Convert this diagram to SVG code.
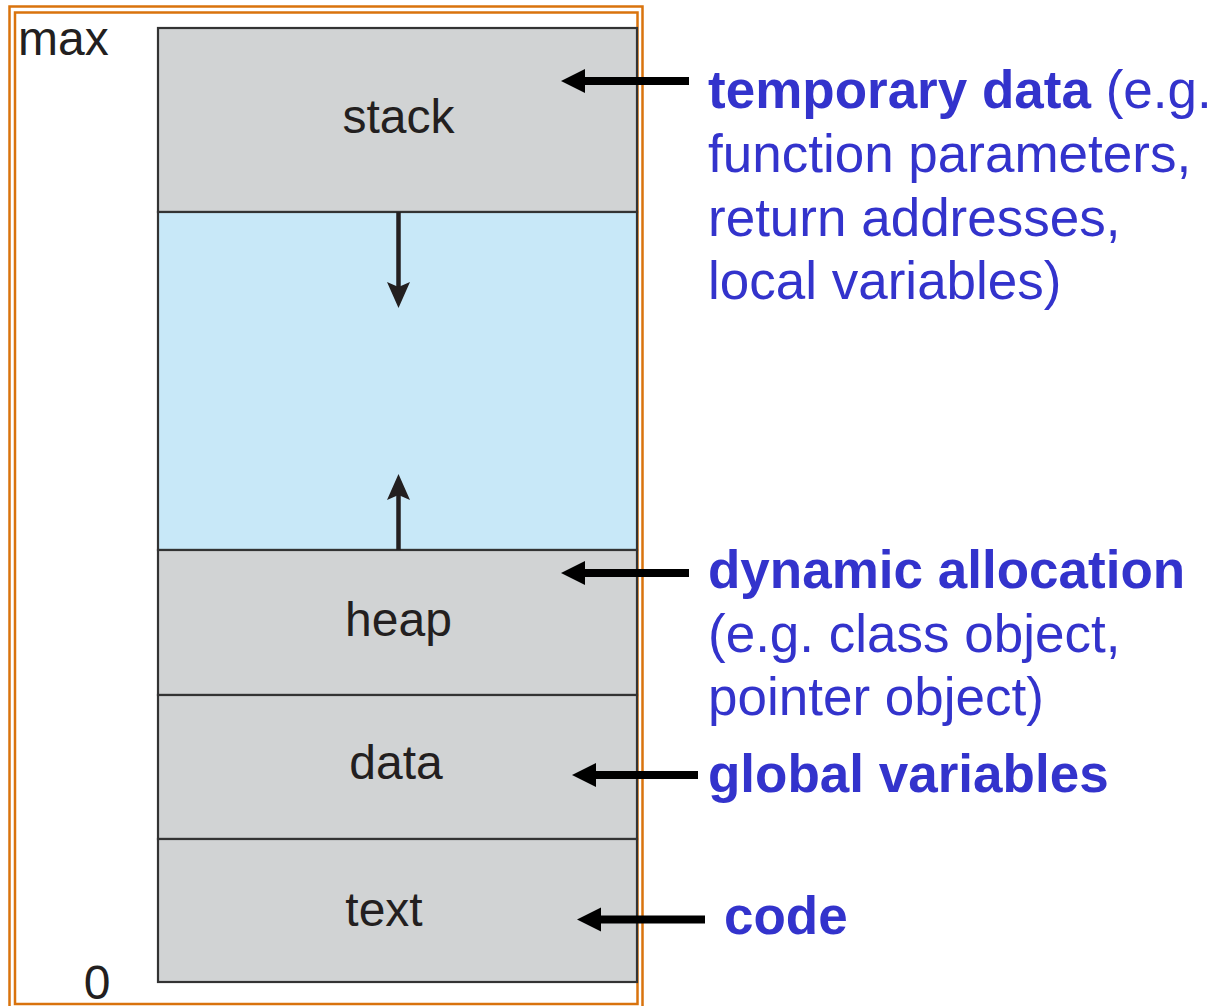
<svg xmlns="http://www.w3.org/2000/svg" width="1218" height="1006" viewBox="0 0 1218 1006">
  <style>
    .seg { stroke: #333333; stroke-width: 2.2; }
    .gray { fill: #d1d3d4; }
    .blue { fill: #c8e8f8; }
    .lbl { font-family: "Liberation Sans", Arial, sans-serif; font-size: 48px; fill: #231f20; }
    .note { font-family: "Liberation Sans", Arial, sans-serif; font-size: 53px; fill: #3333cc; }
    .b { font-weight: bold; }
    .frame { fill: none; stroke: #d9730d; stroke-width: 2.5; }
    .ptr { stroke: #000; stroke-width: 8; fill: none; }
    .head { fill: #000; }
    .inner { stroke: #231f20; stroke-width: 4.5; fill: none; }
    .ihead { fill: #231f20; }
  </style>
  <rect width="1218" height="1006" fill="#ffffff"/>

  <g id="frame">
    <rect class="frame" x="9.5" y="6.5" width="633" height="1010"/>
    <rect class="frame" x="15" y="12.5" width="622.5" height="991.5"/>
  </g>

  <g id="stack">
    <rect class="gray seg" x="158" y="28" width="479" height="184"/>
    <text class="lbl" x="398.5" y="133" text-anchor="middle">stack</text>
  </g>
  <g id="free">
    <rect class="blue seg" x="158" y="212" width="479" height="338"/>
  </g>
  <g id="heap">
    <rect class="gray seg" x="158" y="550" width="479" height="145"/>
    <text class="lbl" x="398.5" y="636" text-anchor="middle">heap</text>
  </g>
  <g id="data">
    <rect class="gray seg" x="158" y="695" width="479" height="144"/>
    <text class="lbl" x="396" y="779" text-anchor="middle">data</text>
  </g>
  <g id="text">
    <rect class="gray seg" x="158" y="839" width="479" height="143"/>
    <text class="lbl" x="384" y="926" text-anchor="middle">text</text>
  </g>

  <g id="axis-labels">
    <text class="lbl" x="18" y="55">max</text>
    <text class="lbl" x="97" y="999" text-anchor="middle">0</text>
  </g>

  <g id="connectors">
    <!-- inner growth arrows -->
    <line class="inner" x1="398.5" y1="212" x2="398.5" y2="288"/>
    <path class="ihead" d="M387,282 L398.5,308 L410,282 L398.5,287 Z"/>
    <line class="inner" x1="398.5" y1="550" x2="398.5" y2="494"/>
    <path class="ihead" d="M387,500 L398.5,474 L410,500 L398.5,495 Z"/>
    <!-- pointer arrows -->
    <line class="ptr" x1="689" y1="81" x2="582" y2="81"/>
    <path class="head" d="M561,81 L585,69 L585,93 Z"/>
    <line class="ptr" x1="689" y1="573" x2="582" y2="573"/>
    <path class="head" d="M561,573 L585,561 L585,585 Z"/>
    <line class="ptr" x1="698" y1="775" x2="593" y2="775"/>
    <path class="head" d="M572,775 L596,763 L596,787 Z"/>
    <line class="ptr" x1="705" y1="919.5" x2="598" y2="919.5"/>
    <path class="head" d="M577,919.5 L601,907.5 L601,931.5 Z"/>
  </g>

  <g id="note-stack">
    <text class="note" x="708" y="108"><tspan class="b">temporary data</tspan> (e.g.</text>
    <text class="note" x="708" y="172">function parameters,</text>
    <text class="note" x="708" y="236">return addresses,</text>
    <text class="note" x="708" y="299">local variables)</text>
  </g>
  <g id="note-heap">
    <text class="note b" x="708" y="588">dynamic allocation</text>
    <text class="note" x="708" y="652">(e.g. class object,</text>
    <text class="note" x="708" y="715">pointer object)</text>
  </g>
  <g id="note-data">
    <text class="note b" x="708" y="792">global variables</text>
  </g>
  <g id="note-text">
    <text class="note b" x="724" y="934">code</text>
  </g>
</svg>
